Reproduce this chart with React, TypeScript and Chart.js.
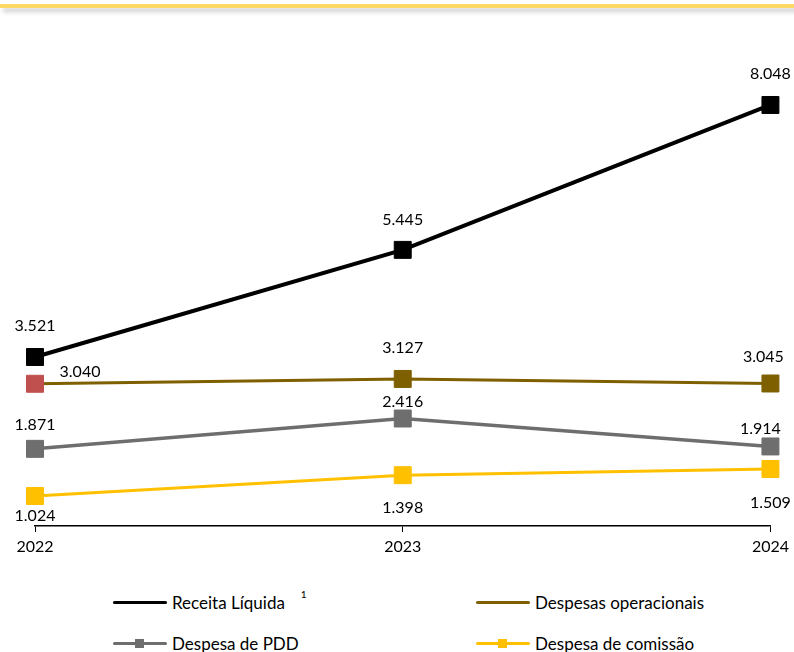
import React, { useEffect, useRef } from "react";
import { Chart, registerables } from "chart.js";

Chart.register(...registerables);

const categories = ["2022", "2023", "2024"];
const receitaLiquida = [3.521, 5.445, 8.048];
const despesasOperacionais = [3.04, 3.127, 3.045];
const despesaPDD = [1.871, 2.416, 1.914];
const despesaComissao = [1.024, 1.398, 1.509];

const seriesNames = ["Receita Líquida", "Despesas operacionais", "Despesa de PDD", "Despesa de comissão"];

// label offsets (dx, dy) relative to each point
const labelOffsets = [
  [[0, -31], [0, -30], [0, -31]],
  [[45, -12], [0, -31], [-7, -27]],
  [[0, -24], [0, -17], [-10, -18]],
  [[0, 20], [0, 33], [0, 34]],
];

const FONT = "Lato, 'Open Sans', sans-serif";

const fmt = (v: number) => v.toFixed(3);

const labelPlugin = {
  id: "valueLabels",
  afterDatasetsDraw(chart: any) {
    const ctx = chart.ctx;
    ctx.save();
    ctx.font = `16px ${FONT}`;
    ctx.fillStyle = "#000";
    ctx.textAlign = "center";
    ctx.textBaseline = "middle";
    chart.data.datasets.forEach((ds: any, di: number) => {
      const meta = chart.getDatasetMeta(di);
      meta.data.forEach((pt: any, i: number) => {
        const off = labelOffsets[di][i];
        ctx.fillText(fmt(ds.data[i]), pt.x + off[0], pt.y + off[1]);
      });
    });
    ctx.restore();
  },
};

function ChartCanvas() {
  const ref = useRef<HTMLCanvasElement | null>(null);
  useEffect(() => {
    if (!ref.current) return;
    const mk = (label: string, data: number[], color: string, width: number, pointColors?: string[]) => ({
      label,
      data,
      borderColor: color,
      backgroundColor: pointColors || color,
      pointBackgroundColor: pointColors || color,
      pointBorderColor: pointColors || color,
      borderWidth: width,
      pointStyle: "rect",
      pointRadius: 12,
      pointBorderWidth: 1,
      tension: 0,
      fill: false,
    });
    const chart = new Chart(ref.current, {
      type: "line",
      data: {
        labels: categories,
        datasets: [
          mk(seriesNames[0], receitaLiquida, "#000000", 4),
          mk(seriesNames[1], despesasOperacionais, "#7F6000", 3, ["#C0504D", "#7F6000", "#7F6000"]),
          mk(seriesNames[2], despesaPDD, "#6E6E6E", 3.5),
          mk(seriesNames[3], despesaComissao, "#FFC000", 3),
        ] as any,
      },
      options: {
        animation: false,
        responsive: false,
        maintainAspectRatio: false,
        layout: { padding: { left: 35, right: 23, top: 60, bottom: 14 } },
        plugins: {
          legend: { display: false },
          tooltip: { enabled: false },
        },
        scales: {
          x: {
            type: "category",
            offset: false,
            grid: {
              display: true,
              drawOnChartArea: false,
              drawTicks: true,
              tickLength: 6,
              color: "#000",
              lineWidth: 1,
            },
            border: { display: true, color: "#000", width: 1.5 },
            ticks: {
              color: "#000",
              font: { family: FONT, size: 16 },
              padding: 5,
              maxRotation: 0,
            },
            afterFit: (s: any) => {
              s.height = 40;
            },
          },
          y: {
            display: false,
            min: 0.485,
            max: 8.856,
          },
        },
      },
      plugins: [labelPlugin],
    } as any);
    return () => chart.destroy();
  }, []);
  return (
    <canvas
      ref={ref}
      width={794}
      height={580}
      style={{ position: "absolute", left: 0, top: 0, width: 794, height: 580 }}
    />
  );
}

function LegendItem({ x, y, color, marker, text, sup }: any) {
  return (
    <div style={{ position: "absolute", left: x, top: y - 12, height: 24, display: "flex", alignItems: "center" }}>
      <div style={{ position: "relative", width: 54, height: 24 }}>
        <div style={{ position: "absolute", left: 0, top: 10.5, width: 54, height: 3, background: color, borderRadius: 1.5 }} />
        {marker && (
          <div style={{ position: "absolute", left: 22, top: 7.5, width: 9, height: 9, background: color }} />
        )}
      </div>
      <span style={{ marginLeft: 5, fontFamily: FONT, fontSize: 17, color: "#000", whiteSpace: "nowrap" }}>{text}</span>
      {sup && (
        <span style={{ position: "relative", top: -8, marginLeft: 16, fontFamily: FONT, fontSize: 10, color: "#000" }}>{sup}</span>
      )}
    </div>
  );
}

export default function App() {
  return (
    <div style={{ position: "fixed", left: 0, top: 0, width: 794, height: 652, background: "#fff", overflow: "hidden" }}>
      <div
        style={{
          position: "absolute",
          left: 0,
          top: 4,
          width: 794,
          height: 4,
          background: "#FFD966",
          boxShadow: "3px 4px 4px rgba(0,0,0,0.2)",
        }}
      />
      <ChartCanvas />
      <LegendItem x={113} y={602} color="#000" text={seriesNames[0]} sup="1" />
      <LegendItem x={476} y={602} color="#7F6000" text={seriesNames[1]} />
      <LegendItem x={113} y={643} color="#6E6E6E" marker text={seriesNames[2]} />
      <LegendItem x={476} y={643} color="#FFC000" marker text={seriesNames[3]} />
    </div>
  );
}
